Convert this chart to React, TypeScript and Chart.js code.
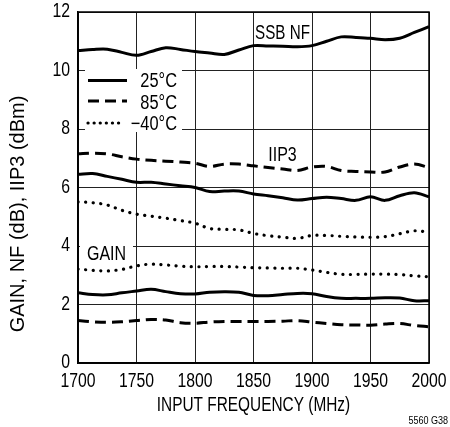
import React, { useEffect, useRef } from "react";
import { Chart, registerables } from "chart.js";

Chart.register(...registerables);

const FREQ = [1700, 1712.5, 1725, 1737.5, 1750, 1762.5, 1775, 1787.5, 1800, 1812.5, 1825, 1837.5, 1850, 1862.5, 1875, 1887.5, 1900, 1912.5, 1925, 1937.5, 1950, 1962.5, 1975, 1987.5, 2000];

const NF_25 = [10.68, 10.72, 10.73, 10.62, 10.52, 10.65, 10.78, 10.72, 10.65, 10.6, 10.55, 10.7, 10.85, 10.84, 10.83, 10.81, 10.85, 11.0, 11.15, 11.13, 11.1, 11.05, 11.1, 11.3, 11.5];
const IIP3_85 = [7.15, 7.17, 7.15, 7.05, 6.97, 6.93, 6.9, 6.87, 6.83, 6.72, 6.8, 6.8, 6.74, 6.68, 6.63, 6.58, 6.7, 6.72, 6.58, 6.55, 6.53, 6.53, 6.7, 6.8, 6.68];
const IIP3_25 = [6.45, 6.48, 6.38, 6.28, 6.18, 6.18, 6.12, 6.06, 6.0, 5.86, 5.88, 5.88, 5.78, 5.72, 5.65, 5.57, 5.62, 5.67, 5.62, 5.56, 5.68, 5.56, 5.72, 5.82, 5.68];
const IIP3_M40 = [5.51, 5.48, 5.4, 5.22, 5.09, 5.02, 4.95, 4.87, 4.78, 4.6, 4.57, 4.55, 4.43, 4.35, 4.3, 4.26, 4.36, 4.36, 4.33, 4.31, 4.3, 4.32, 4.42, 4.52, 4.47];
const GAIN_M40 = [3.21, 3.17, 3.15, 3.2, 3.32, 3.38, 3.35, 3.31, 3.29, 3.3, 3.3, 3.28, 3.26, 3.25, 3.24, 3.24, 3.18, 3.1, 3.03, 3.03, 3.04, 3.04, 3.02, 2.98, 2.95];
const GAIN_25 = [2.4, 2.34, 2.33, 2.4, 2.46, 2.52, 2.44, 2.37, 2.36, 2.42, 2.44, 2.42, 2.31, 2.3, 2.34, 2.38, 2.37, 2.27, 2.21, 2.21, 2.21, 2.23, 2.22, 2.13, 2.13];
const GAIN_85 = [1.45, 1.41, 1.39, 1.41, 1.45, 1.49, 1.47, 1.38, 1.36, 1.4, 1.42, 1.42, 1.42, 1.42, 1.43, 1.45, 1.4, 1.35, 1.31, 1.3, 1.29, 1.33, 1.35, 1.28, 1.24];

const LEGEND = ["25°C", "85°C", "−40°C"];
const X_TITLE = "INPUT FREQUENCY (MHz)";
const Y_TITLE = "GAIN, NF (dB), IIP3 (dBm)";
const CAPTION = "5560 G38";

const FONT = "'Liberation Sans', Arial, sans-serif";

const SOLID: number[] = [];
const DASH = [11, 6];
const DOT = [0.1, 7.5];

function pts(vals: number[]) {
  return vals.map((v, i) => ({ x: FREQ[i], y: v }));
}

function ds(vals: number[], dash: number[]) {
  return {
    data: pts(vals),
    borderColor: "#000",
    borderWidth: dash === DOT ? 3.2 : 3,
    borderDash: dash,
    borderCapStyle: dash === DOT ? "round" : "butt",
    pointRadius: 0,
    tension: 0.35,
    fill: false,
  };
}

function txt(ctx: CanvasRenderingContext2D, s: string, x: number, y: number, size: number, sx: number, align: CanvasTextAlign) {
  ctx.save();
  ctx.translate(x, y);
  ctx.scale(sx, 1);
  ctx.font = `${size}px ${FONT}`;
  ctx.textAlign = align;
  ctx.textBaseline = "middle";
  ctx.fillStyle = "#000";
  ctx.fillText(s, 0, 0);
  ctx.restore();
}

const annotPlugin = {
  id: "annot",
  afterDatasetsDraw(chart: any) {
    const ctx = chart.ctx as CanvasRenderingContext2D;
    const a = chart.chartArea;
    const xs = chart.scales.x;
    const ys = chart.scales.y;
    ctx.save();
    // frame
    ctx.strokeStyle = "#000";
    ctx.lineWidth = 1.5;
    ctx.setLineDash([]);
    ctx.strokeRect(a.left, a.top, a.right - a.left, a.bottom - a.top);

    // tick labels
    xs.ticks.forEach((t: any) => {
      txt(ctx, String(t.value), xs.getPixelForValue(t.value), a.bottom + 19, 19.5, 0.81, "center");
    });
    ys.ticks.forEach((t: any) => {
      txt(ctx, String(t.value), a.left - 8, ys.getPixelForValue(t.value), 19.5, 0.81, "right");
    });

    // legend box
    ctx.fillStyle = "#fff";
    ctx.fillRect(85, 69, 97, 63);
    // GAIN label box
    ctx.fillRect(80, 240, 53, 24);

    ctx.strokeStyle = "#000";
    const rows = [
      { y: 80.5, dash: SOLID, ty: 81 },
      { y: 101, dash: DASH, ty: 103 },
      { y: 123, dash: DOT, ty: 124.5 },
    ];
    rows.forEach((r, i) => {
      ctx.beginPath();
      ctx.lineWidth = r.dash === DOT ? 3.2 : 3;
      ctx.lineCap = r.dash === DOT ? "round" : "butt";
      ctx.setLineDash(r.dash === DOT ? [0.1, 6] : r.dash);
      const x2 = r.dash === DOT ? 124 : 127;
      ctx.moveTo(88, r.y);
      ctx.lineTo(x2, r.y);
      ctx.stroke();
      txt(ctx, LEGEND[i], 177, r.ty, 20, 0.82, "right");
    });
    ctx.setLineDash([]);

    txt(ctx, "SSB NF", 282.5, 33.5, 20, 0.76, "center");
    txt(ctx, "IIP3", 282.5, 155.5, 20, 0.8, "center");
    txt(ctx, "GAIN", 106.5, 254.5, 20, 0.8, "center");

    // axis titles
    txt(ctx, X_TITLE, (a.left + a.right) / 2, 405, 20, 0.77, "center");
    ctx.save();
    ctx.translate(18, 214);
    ctx.rotate(-Math.PI / 2);
    txt(ctx, Y_TITLE, 0, 0, 20, 1, "center");
    ctx.restore();

    txt(ctx, CAPTION, 448, 421, 11, 0.82, "right");
    ctx.restore();
  },
};

export default function App() {
  const ref = useRef<HTMLCanvasElement>(null);
  useEffect(() => {
    document.body.style.margin = "0";
    const c = new Chart(ref.current!, {
      type: "line",
      data: {
        datasets: [
          ds(NF_25, SOLID),
          ds(IIP3_85, DASH),
          ds(IIP3_25, SOLID),
          ds(IIP3_M40, DOT),
          ds(GAIN_M40, DOT),
          ds(GAIN_25, SOLID),
          ds(GAIN_85, DASH),
        ] as any,
      },
      options: {
        animation: false,
        responsive: false,
        devicePixelRatio: 1,
        layout: { padding: { left: 0, right: 21, top: 12, bottom: 0 } },
        plugins: { legend: { display: false }, tooltip: { enabled: false } },
        scales: {
          x: {
            type: "linear",
            min: 1700,
            max: 2000,
            ticks: { stepSize: 50, display: false },
            grid: { color: "#222", lineWidth: 1, drawTicks: false },
            border: { color: "#000", width: 1.5 },
            afterFit: (s: any) => { s.height = 64; },
          },
          y: {
            min: 0,
            max: 12,
            ticks: { stepSize: 2, display: false },
            grid: { color: "#222", lineWidth: 1, drawTicks: false },
            border: { color: "#000", width: 1.5 },
            afterFit: (s: any) => { s.width = 78; },
          },
        },
      },
      plugins: [annotPlugin],
    });
    return () => c.destroy();
  }, []);
  return (
    <div style={{ position: "absolute", left: 0, top: 0, width: 450, height: 427 }}>
      <canvas ref={ref} width={450} height={427} />
    </div>
  );
}
